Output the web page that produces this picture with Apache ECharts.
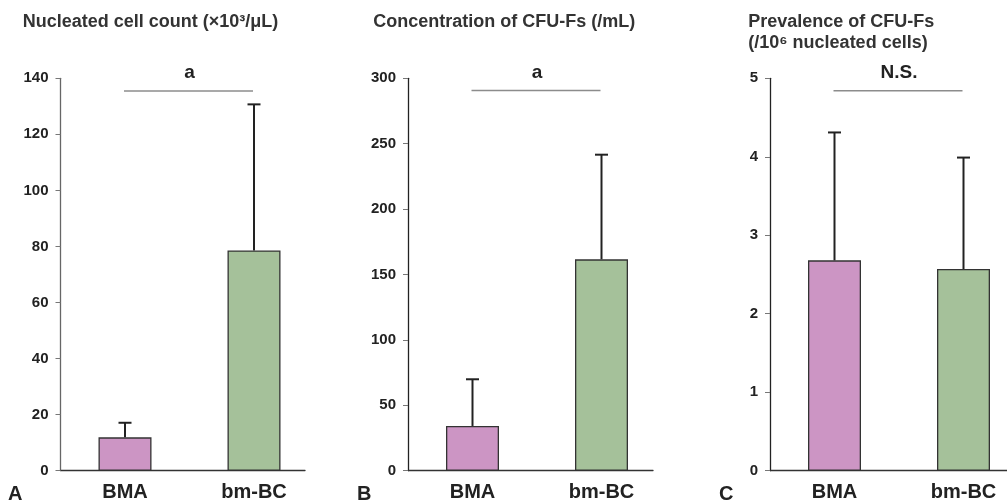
<!DOCTYPE html>
<html><head><meta charset="utf-8">
<script src="https://cdn.jsdelivr.net/npm/echarts@6/dist/echarts.min.js"></script>
<style>html,body{margin:0;padding:0;background:#fff}#c{width:1007px;height:501px}</style>
</head><body><div id="c"></div>
<script>
// ---- data ----
const categories = ['BMA', 'bm-BC'];
const countMean = [11.9, 78.6];   // Nucleated cell count (x10^3/uL)
const countSD   = [5.2, 52.1];
const cfuMean   = [34.2, 161.6];  // Concentration of CFU-Fs (/mL)
const cfuSD     = [35.7, 80.0];
const prevMean  = [2.68, 2.57];   // Prevalence of CFU-Fs (/10^6 nucleated cells)
const prevSD    = [1.63, 1.42];
const yMax  = [140, 300, 5];
const yStep = [20, 50, 1];
const sigLevel = [135.5, 290.6, 4.84];
const sigText  = ['a', 'a', 'N.S.'];
const titles = [
  ['Nucleated cell count (×10³/μL)'],
  ['Concentration of CFU-Fs (/mL)'],
  ['Prevalence of CFU-Fs', '(/10⁶ nucleated cells)']
];
const panelLetters = ['A', 'B', 'C'];

// ---- style / layout ----
const FONT = "'Liberation Sans', Arial, sans-serif";
const barColors = ['#cc95c4', '#a5c19a'];
const gridLeft = [60.5, 408, 770];
const axisRight = [305, 653, 1007];
const yAxisColor = ['#666', '#222', '#222'];
const titleX = [22.7, 373.3, 748.3];
const letterX = [8, 357, 719];
const GTOP = 78.3, GH = 392.4, GW = 258;

const means = [countMean, cfuMean, prevMean];
const sds = [countSD, cfuSD, prevSD];

const grids = [], xAxes = [], yAxes = [], series = [], graphics = [];
const dGrids = [], dX = [], dY = [];

for (let p = 0; p < 3; p++) {
  grids.push({left: gridLeft[p], top: GTOP, width: GW, height: GH, outerBoundsMode: 'none', containLabel: false});
  xAxes.push({
    type: 'category', gridIndex: p, data: categories,
    axisLine: {show: false}, axisTick: {show: false},
    axisLabel: {color: '#222', fontSize: 20, fontWeight: 'bold', fontFamily: FONT, margin: 12}
  });
  yAxes.push({
    type: 'value', gridIndex: p, min: 0, max: yMax[p], interval: yStep[p],
    axisLine: {show: true, lineStyle: {color: yAxisColor[p], width: 1.3}},
    axisTick: {show: true, length: 5, lineStyle: {color: '#777', width: 1}},
    axisLabel: {color: '#222', fontSize: 15, fontWeight: 'bold', fontFamily: FONT, margin: 12},
    splitLine: {show: false}
  });
  series.push({
    type: 'bar', xAxisIndex: p, yAxisIndex: p, barWidth: 53,
    data: means[p].map((v, i) => ({value: v, itemStyle: {color: barColors[i]}})),
    itemStyle: {borderColor: '#333', borderWidth: 1.3},
    silent: true, z: 2
  });
  series.push({
    type: 'custom', xAxisIndex: p, yAxisIndex: p, z: 3, silent: true,
    encode: {x: 0, y: [1, 2]},
    data: means[p].map((m, i) => [i, m, m + sds[p][i]]),
    renderItem: function (params, api) {
      const i = api.value(0), m = api.value(1), u = api.value(2);
      const a = api.coord([i, m]), b = api.coord([i, u]);
      const st = {stroke: '#222', lineWidth: 2};
      return {type: 'group', children: [
        {type: 'line', shape: {x1: a[0], y1: a[1], x2: b[0], y2: b[1]}, style: st},
        {type: 'line', shape: {x1: b[0] - 6.5, y1: b[1], x2: b[0] + 6.5, y2: b[1]}, style: st}
      ]};
    }
  });
  const txt = sigText[p];
  series.push({
    type: 'custom', xAxisIndex: p, yAxisIndex: p, z: 3, silent: true,
    encode: {x: 0, y: 1},
    data: [[0, sigLevel[p]]],
    renderItem: function (params, api) {
      const lvl = api.value(1);
      const a = api.coord([0, lvl]), b = api.coord([1, lvl]);
      return {type: 'group', children: [
        {type: 'line', shape: {x1: a[0] - 1, y1: a[1], x2: b[0] - 1, y2: b[1]},
         style: {stroke: '#8c8c8c', lineWidth: 1.5}},
        {type: 'text', x: (a[0] + b[0]) / 2, y: a[1] - 18,
         style: {text: txt, fill: '#222', font: 'bold 19px ' + FONT, align: 'center', verticalAlign: 'middle'}}
      ]};
    }
  });
  // baseline (x-axis line) grid
  const gi = 3 + p;
  dGrids.push({left: gridLeft[p] + 0.5, top: GTOP, width: axisRight[p] - gridLeft[p] - 0.5, height: GH, outerBoundsMode: 'none', containLabel: false});
  dX.push({
    type: 'value', gridIndex: gi, min: 0, max: 1,
    axisLine: {show: true, onZero: false, lineStyle: {color: '#333', width: 1.3}},
    axisTick: {show: false}, axisLabel: {show: false}, splitLine: {show: false}
  });
  dY.push({type: 'value', gridIndex: gi, show: false, min: 0, max: 1, splitLine: {show: false}});

  titles[p].forEach((t, k) => {
    graphics.push({type: 'text', x: titleX[p], y: 22 + 21 * k,
      style: {text: t, fill: '#333', font: 'bold 18px ' + FONT, verticalAlign: 'middle'}});
  });
  graphics.push({type: 'text', x: letterX[p], y: 494,
    style: {text: panelLetters[p], fill: '#222', font: 'bold 20px ' + FONT, verticalAlign: 'middle'}});
}

const chart = echarts.init(document.getElementById('c'), null, {renderer: 'canvas'});
chart.setOption({
  animation: false,
  backgroundColor: '#fff',
  grid: grids.concat(dGrids), xAxis: xAxes.concat(dX), yAxis: yAxes.concat(dY),
  series: series, graphic: graphics
});
</script></body></html>
